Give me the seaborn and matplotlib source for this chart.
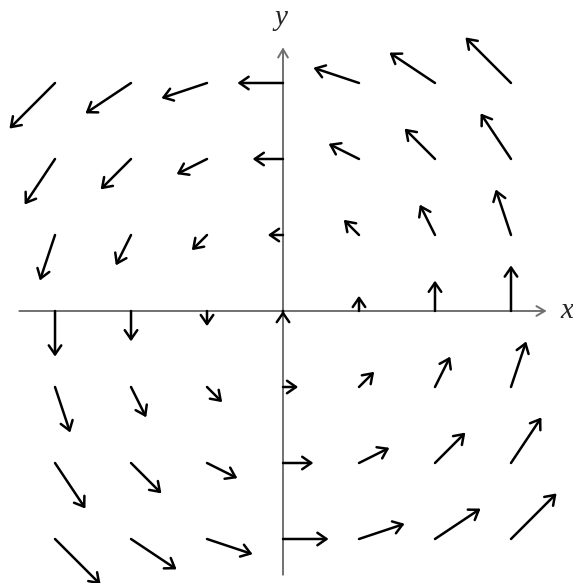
import matplotlib
matplotlib.use("Agg")
import matplotlib.pyplot as plt
import seaborn as sns

# grid points of the field
x_pts = [-3, -2, -1, 0, 1, 2, 3]
y_pts = [3, 2, 1, 0, -1, -2, -3]

# field components per row (row = one y value, top to bottom)
u_rows = [
    [-3, -3, -3, -3, -3, -3, -3],
    [-2, -2, -2, -2, -2, -2, -2],
    [-1, -1, -1, -1, -1, -1, -1],
    [0, 0, 0, 0, 0, 0, 0],
    [1, 1, 1, 1, 1, 1, 1],
    [2, 2, 2, 2, 2, 2, 2],
    [3, 3, 3, 3, 3, 3, 3],
]
v_rows = [
    [-3, -2, -1, 0, 1, 2, 3],
    [-3, -2, -1, 0, 1, 2, 3],
    [-3, -2, -1, 0, 1, 2, 3],
    [-3, -2, -1, 0, 1, 2, 3],
    [-3, -2, -1, 0, 1, 2, 3],
    [-3, -2, -1, 0, 1, 2, 3],
    [-3, -2, -1, 0, 1, 2, 3],
]
arrow_scale = 0.2
axis_span = 3.47

sns.set_style("white")

fig = plt.figure(figsize=(5.73, 5.83), dpi=100)
ax = fig.add_axes([0, 0, 1, 1])
ax.set_xlim(-3.724, 3.816)
ax.set_ylim(-3.579, 4.092)
ax.axis("off")

# axes with arrow tips
axis_style = dict(arrowstyle="->,head_length=0.6,head_width=0.35", color="#707070",
                  lw=1.4, shrinkA=0, shrinkB=0)
ax.annotate("", xy=(axis_span, 0), xytext=(-axis_span, 0), arrowprops=axis_style,
            annotation_clip=False)
ax.annotate("", xy=(0, axis_span), xytext=(0, -axis_span), arrowprops=axis_style,
            annotation_clip=False)
ax.text(3.73, 0, "x", fontsize=21, family="Liberation Serif", style="italic",
        ha="center", va="center")
ax.text(-0.03, 3.86, "y", fontsize=21, family="Liberation Serif", style="italic",
        ha="center", va="center")

# field arrows, tail at grid point
arrow_style = dict(arrowstyle="->,head_length=0.65,head_width=0.45", color="black",
                   lw=1.8, shrinkA=0, shrinkB=0)
for j, y0 in enumerate(y_pts):
    for i, x0 in enumerate(x_pts):
        du = u_rows[j][i] * arrow_scale
        dv = v_rows[j][i] * arrow_scale
        if du == 0 and dv == 0:
            dv = 0.001
        ax.annotate("", xy=(x0 + du, y0 + dv), xytext=(x0, y0), arrowprops=arrow_style,
                    annotation_clip=False)

fig.savefig("out.png", dpi=100)
